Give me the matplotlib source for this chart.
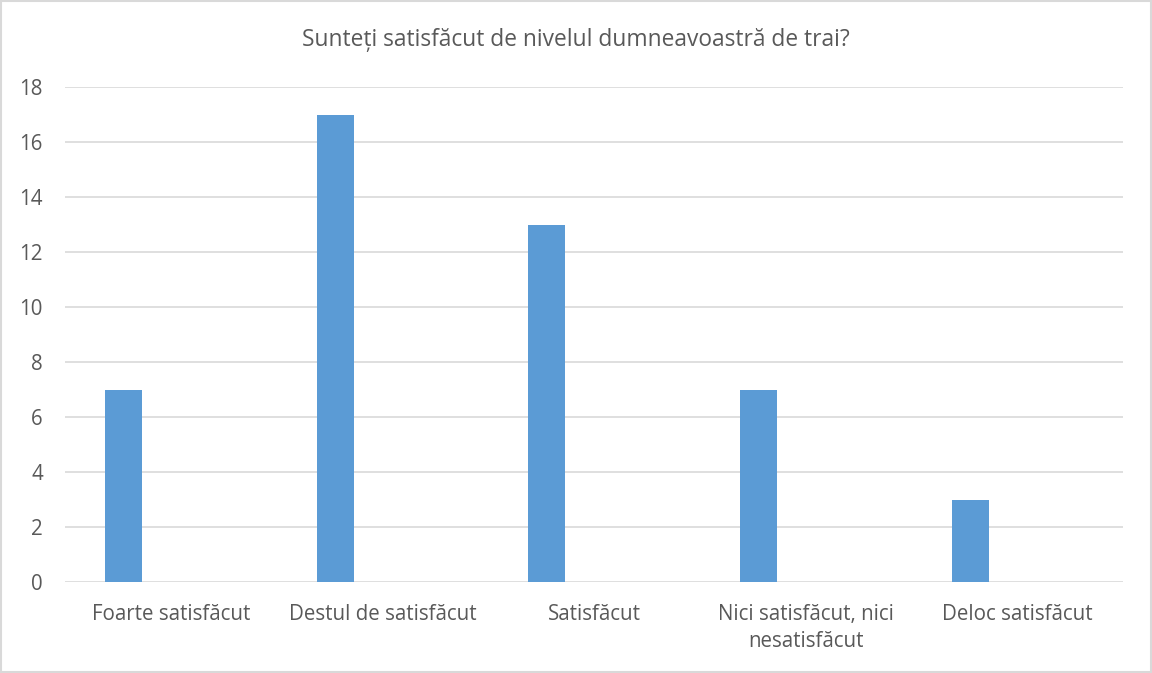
import numpy as np
import matplotlib
matplotlib.use('Agg')
import matplotlib.pyplot as plt
from matplotlib.patches import Rectangle

categorii = ['Foarte satisfăcut', 'Destul de satisfăcut', 'Satisfăcut',
             'Nici satisfăcut, nici\nnesatisfăcut', 'Deloc satisfăcut']
valori = [7, 17, 13, 7, 3]
titlu = 'Sunteți satisfăcut de nivelul dumneavoastră de trai?'
yticks = [0, 2, 4, 6, 8, 10, 12, 14, 16, 18]

plt.rcParams['font.family'] = ['Open Sans', 'DejaVu Sans']
gri_text = '#595959'

fig = plt.figure(figsize=(11.52, 6.73), dpi=100)
ax = fig.add_axes([0.0564, 0.1352, 0.9186, 0.7355])

x = np.arange(len(categorii))
# bara e deplasata spre stanga in fiecare categorie (ca in Excel)
ax.bar(x - 0.2235, valori, width=0.175, color='#5B9BD5', zorder=3)

ax.set_xlim(-0.5, len(categorii) - 0.5)
ax.set_ylim(0, 18)
ax.set_yticks(yticks)
ax.set_xticks(x)
ax.set_xticklabels(categorii, fontsize=14.8, color=gri_text, linespacing=1.42)
ax.tick_params(axis='y', labelsize=14.8, labelcolor=gri_text, length=0, pad=16)
ax.tick_params(axis='x', length=0, pad=15.5)
ax.grid(axis='y', color='#D9D9D9', linewidth=1.2, zorder=0)
for s in ax.spines.values():
    s.set_visible(False)

fig.text(0.5, 0.94, titlu, ha='center', va='center', fontsize=16.4, color=gri_text)

fig.patches.append(Rectangle((0.001, 0.001), 0.998, 0.997, transform=fig.transFigure,
                             fill=False, edgecolor='#D9D9D9', linewidth=1.5))

fig.savefig('out.png', dpi=100)
